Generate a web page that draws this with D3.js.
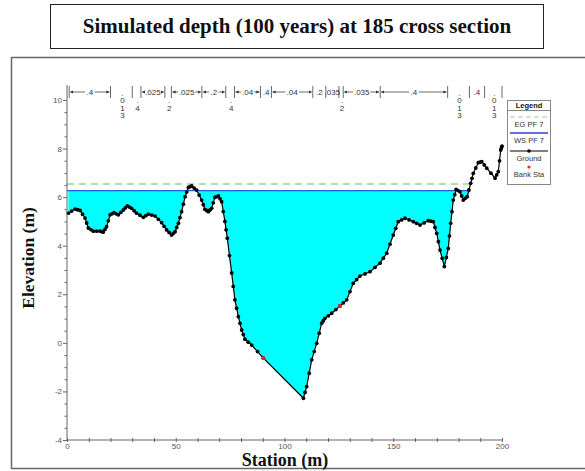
<!DOCTYPE html>
<html>
<head>
<meta charset="utf-8">
<script src="https://cdn.jsdelivr.net/npm/d3@7"></script>
<style>
  body { margin: 0; background: #fff; }
  svg { display: block; }
</style>
</head>
<body>
<script>
// ground profile (station m, elevation m)
var stations = [0.6, 3.7, 6, 8.3, 9.8, 12.1, 15.2, 16.7, 18.2, 19.8, 21.6, 23.6, 25.9, 27.7, 29.7, 32, 35.1, 37.4, 40.5, 43.5,
  45.8, 48.1, 49.7, 51.2, 52.7, 54.3, 55.8, 57.3, 59.6, 61.9, 63.4, 65, 66.5, 68, 69.6, 71.1, 72.6, 73.7, 75.7, 77.2,
  78.8, 80.3, 81.8, 84.9, 90.3, 108.7, 110.2, 112.5, 114.8, 117.1, 118.6, 121.7, 125.5, 128.6, 131.6, 134.7, 139.3, 143.9, 147, 150,
  152.3, 155.4, 159.2, 162.3, 166.1, 168.4, 170, 171.5, 173.5, 175.3, 176.4, 177.6, 178.9, 180.7, 182.2, 184, 185.6, 186.8, 189.1, 190.7,
  193, 196.8, 198.3, 199.4, 200];
var elevations = [5.34, 5.51, 5.45, 5.14, 4.73, 4.6, 4.6, 4.56, 4.78, 5.27, 5.36, 5.27, 5.47, 5.64, 5.54, 5.34, 5.17, 5.3, 5.22, 4.95,
  4.65, 4.44, 4.58, 4.92, 5.4, 6.02, 6.4, 6.46, 6.29, 5.88, 5.5, 5.4, 5.54, 5.99, 6.05, 5.81, 5.0, 4.31, 2.88, 1.77,
  1.08, 0.53, 0.15, -0.09, -0.63, -2.28, -1.8, -0.7, -0.02, 0.81, 1.01, 1.22, 1.52, 1.77, 2.45, 2.75, 2.93, 3.28, 3.69, 4.44,
  4.99, 5.13, 4.99, 4.85, 5.03, 4.99, 4.51, 3.82, 3.14, 3.89, 4.92, 5.88, 6.32, 6.22, 5.88, 6.02, 6.57, 6.98, 7.42, 7.46,
  7.19, 6.78, 7.05, 7.94, 8.1];

var wsElev = 6.27;   // WS PF 7
var egElev = 6.54;   // EG PF 7
var bankStations = [90.3, 125.5];
var bankElevs = [-0.63, 1.52];

// manning's n breakpoints and values along the top
var nBreaks = [1, 20, 30, 34, 45, 48, 62, 73, 77, 89, 94, 113, 119, 125, 127, 144, 175, 185, 192, 200];
var nValues = [".4", ".013", ".4", ".025", ".2", ".025", ".2", ".4", ".04", ".4", ".04", ".2", ".035", ".2", ".035", ".4", ".013", ".4", ".013"];

var xTicks = [0, 50, 100, 150, 200];
var yTicks = [-4, -2, 0, 2, 4, 6, 8, 10];
var legendItems = ["EG PF 7", "WS PF 7", "Ground", "Bank Sta"];

var W = 585, H = 471;
var svg = d3.select("body").append("svg").attr("width", W).attr("height", H);

var x = d3.scaleLinear().domain([0, 200]).range([67, 502]);
var y = d3.scaleLinear().domain([-4, 10]).range([440, 100]);

// title box
svg.append("rect").attr("x", 50.5).attr("y", 4.5).attr("width", 493).attr("height", 44)
  .attr("fill", "#fff").attr("stroke", "#222");
svg.append("text").attr("x", 297).attr("y", 33).attr("text-anchor", "middle")
  .style("font-family", "'Liberation Serif', 'Times New Roman', serif")
  .style("font-weight", "bold").style("font-size", "21px").attr("fill", "#111")
  .text("Simulated depth (100 years) at 185 cross section");

// chart frame
svg.append("rect").attr("x", 11.5).attr("y", 57.5).attr("width", 580).attr("height", 411)
  .attr("fill", "none").attr("stroke", "#666").attr("stroke-width", 1.5);

var pts = stations.map(function(s, i) { return [s, elevations[i]]; });

// water fill
var area = d3.area()
  .x(function(d) { return x(d[0]); })
  .y0(y(wsElev))
  .y1(function(d) { return y(Math.min(d[1], wsElev)); });
svg.append("path").datum(pts).attr("d", area).attr("fill", "#00ffff");

// where a level meets the ground on the right bank
function rightCrossing(level) {
  for (var i = pts.length - 1; i > 0; i--) {
    if (pts[i - 1][1] < level && pts[i][1] >= level) {
      var t = (level - pts[i - 1][1]) / (pts[i][1] - pts[i - 1][1]);
      return pts[i - 1][0] + t * (pts[i][0] - pts[i - 1][0]);
    }
  }
  return 200;
}

svg.append("line").attr("x1", x(0)).attr("x2", x(rightCrossing(egElev)))
  .attr("y1", y(egElev)).attr("y2", y(egElev))
  .attr("stroke", "#9fcf9f").attr("stroke-width", 1.5).attr("stroke-dasharray", "7,5");
svg.append("line").attr("x1", x(0)).attr("x2", x(rightCrossing(wsElev)))
  .attr("y1", y(wsElev)).attr("y2", y(wsElev))
  .attr("stroke", "#1f5fe0").attr("stroke-width", 1.3);

// ground
var line = d3.line().x(function(d) { return x(d[0]); }).y(function(d) { return y(d[1]); });
svg.append("path").datum(pts).attr("d", line).attr("fill", "none").attr("stroke", "#000").attr("stroke-width", 1.2);
svg.append("g").selectAll("circle").data(pts).enter().append("circle")
  .attr("cx", function(d) { return x(d[0]); }).attr("cy", function(d) { return y(d[1]); })
  .attr("r", 1.9).attr("fill", "#000");
// extra dots between read points so the marker density looks like the original
svg.append("g").selectAll("circle").data(d3.pairs(pts).filter(function(p) { return p[1][0] - p[0][0] < 6; }))
  .enter().append("circle")
  .attr("cx", function(p) { return x((p[0][0] + p[1][0]) / 2); })
  .attr("cy", function(p) { return y((p[0][1] + p[1][1]) / 2); })
  .attr("r", 1.9).attr("fill", "#000");

svg.append("g").selectAll("circle").data(bankStations).enter().append("circle")
  .attr("cx", function(d) { return x(d); }).attr("cy", function(d, i) { return y(bankElevs[i]); })
  .attr("r", 2).attr("fill", "#e8262b");

// axes
var tickFont = "'Liberation Sans', Arial, sans-serif";
var yAxis = svg.append("g").attr("transform", "translate(" + x(0) + ",0)")
  .call(d3.axisLeft(y).tickValues(d3.range(-4, 10.01, 0.5)).tickSize(3).tickFormat(function(d) {
    return yTicks.indexOf(d) >= 0 ? d : "";
  }));
yAxis.select(".domain").attr("d", "M0," + (y(-4)) + "V85").attr("stroke", "#666");
yAxis.selectAll(".tick line").attr("stroke", "#666").attr("x2", function(d) { return yTicks.indexOf(d) >= 0 ? -4 : -2.5; });
yAxis.selectAll(".tick text").attr("x", -5).attr("fill", "#555").style("font-family", tickFont).style("font-size", "8px");

var xAxis = svg.append("g").attr("transform", "translate(0," + y(-4) + ")")
  .call(d3.axisBottom(x).tickValues(d3.range(0, 201, 10)).tickSize(3).tickFormat(function(d) {
    return xTicks.indexOf(d) >= 0 ? d : "";
  }));
xAxis.select(".domain").attr("d", "M" + x(0) + ",0H" + x(200)).attr("stroke", "#666");
xAxis.selectAll(".tick line").attr("stroke", "#666").attr("y1", -2).attr("y2", 2);
xAxis.selectAll(".tick text").attr("y", 3).attr("fill", "#555").style("font-family", tickFont).style("font-size", "8px");

// axis titles
var serif = "'Liberation Serif', 'Times New Roman', serif";
svg.append("text").attr("transform", "translate(34,258) rotate(-90)").attr("text-anchor", "middle")
  .style("font-family", serif).style("font-weight", "bold").style("font-size", "17.5px").attr("fill", "#111")
  .text("Elevation  (m)");
svg.append("text").attr("x", 285).attr("y", 466).attr("text-anchor", "middle")
  .style("font-family", serif).style("font-weight", "bold").style("font-size", "18px").attr("fill", "#111")
  .text("Station (m)");

// manning's n annotations
var nY = 92;
var defs = svg.append("defs");
defs.append("marker").attr("id", "arr").attr("viewBox", "0 0 6 6").attr("refX", 6).attr("refY", 3)
  .attr("markerWidth", 4).attr("markerHeight", 4).attr("orient", "auto")
  .append("path").attr("d", "M0,0L6,3L0,6Z").attr("fill", "#333");

var nG = svg.append("g").style("font-family", tickFont).style("font-size", "8px").attr("fill", "#333");
nBreaks.forEach(function(b) {
  nG.append("line").attr("x1", x(b)).attr("x2", x(b)).attr("y1", nY - 6).attr("y2", nY + 6)
    .attr("stroke", "#444").attr("stroke-width", 0.8);
});
nValues.forEach(function(v, i) {
  var a = x(nBreaks[i]), b = x(nBreaks[i + 1]), m = (a + b) / 2;
  var wpx = b - a;
  if (wpx < 10 || v === ".013") {
    var chars = v.split("");
    var top = 104 - (chars.length - 1) * 7.5 / 2;
    chars.forEach(function(c, j) {
      nG.append("text").attr("x", m + 1).attr("y", top + j * 7.5 + 3).attr("text-anchor", "middle").text(c);
    });
  } else {
    var tw = v.length * 3.8 + 2;
    if (wpx - tw > 6) {
      nG.append("line").attr("x1", m - tw / 2).attr("x2", a + 1).attr("y1", nY).attr("y2", nY)
        .attr("stroke", "#444").attr("stroke-width", 0.8).attr("marker-end", "url(#arr)");
      nG.append("line").attr("x1", m + tw / 2).attr("x2", b - 1).attr("y1", nY).attr("y2", nY)
        .attr("stroke", "#444").attr("stroke-width", 0.8).attr("marker-end", "url(#arr)");
    }
    nG.append("text").attr("x", m).attr("y", nY + 2.5).attr("text-anchor", "middle").text(v);
  }
});

// legend
var lg = svg.append("g").attr("transform", "translate(507,100)");
lg.append("rect").attr("x", 0.5).attr("y", 0.5).attr("width", 43).attr("height", 84)
  .attr("fill", "#fff").attr("stroke", "#888");
lg.append("line").attr("x1", 0.5).attr("x2", 43.5).attr("y1", 10.5).attr("y2", 10.5).attr("stroke", "#888");
lg.append("text").attr("x", 22).attr("y", 8).attr("text-anchor", "middle")
  .style("font-family", tickFont).style("font-weight", "bold").style("font-size", "7.5px").attr("fill", "#111").text("Legend");
var rowY = [17, 33, 51, 67];
legendItems.forEach(function(name, i) {
  var sy = rowY[i];
  if (i === 0) {
    lg.append("line").attr("x1", 3).attr("x2", 41).attr("y1", sy).attr("y2", sy)
      .attr("stroke", "#9fcf9f").attr("stroke-width", 1.2).attr("stroke-dasharray", "5,3");
  } else if (i === 1) {
    lg.append("line").attr("x1", 3).attr("x2", 41).attr("y1", sy).attr("y2", sy)
      .attr("stroke", "#3a3ad0").attr("stroke-width", 1.3);
  } else if (i === 2) {
    lg.append("line").attr("x1", 3).attr("x2", 41).attr("y1", sy).attr("y2", sy)
      .attr("stroke", "#000").attr("stroke-width", 1.2);
    lg.append("circle").attr("cx", 22).attr("cy", sy).attr("r", 1.8).attr("fill", "#000");
  } else {
    lg.append("circle").attr("cx", 22).attr("cy", sy).attr("r", 1.6).attr("fill", "#e8262b");
  }
  lg.append("text").attr("x", 22).attr("y", sy + 10).attr("text-anchor", "middle")
    .style("font-family", tickFont).style("font-size", "7.5px").attr("fill", "#333").text(name);
});
</script>
</body>
</html>
